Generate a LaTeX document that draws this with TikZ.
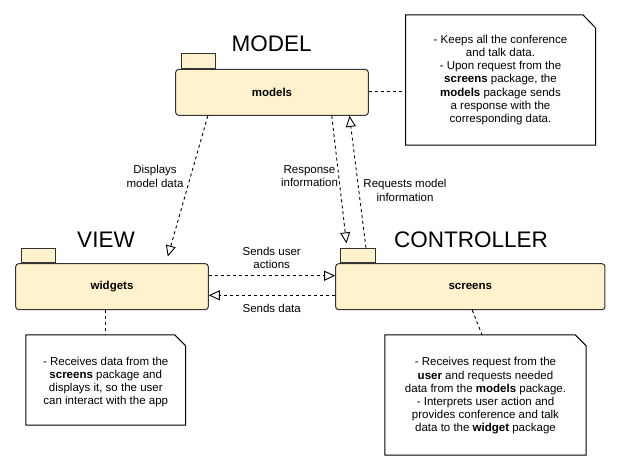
\documentclass[tikz,border=0pt]{standalone}
\usepackage{fontspec}
\setmainfont{Liberation Sans}
\usetikzlibrary{arrows.meta}
\definecolor{pkgfill}{HTML}{FFF2CC}
\definecolor{pkgline}{HTML}{333333}
\tikzset{
  pkgbody/.style={draw=pkgline, fill=pkgfill, line width=1pt, rounded corners=3pt,
    minimum width=193pt, minimum height=46pt, inner sep=0pt,
    font=\fontsize{11.5}{13.2}\selectfont\bfseries},
  pkgtab/.style={draw=pkgline, fill=pkgfill, line width=1pt, minimum width=34.3pt,
    minimum height=14.5pt, inner sep=0pt, anchor=south west},
  title/.style={font=\fontsize{22.5}{26}\selectfont, inner sep=0pt},
  notebox/.style={inner sep=0pt, align=center, font=\fontsize{11.5}{13.2}\selectfont},
  noteline/.style={draw=black, line width=1pt, fill=white},
  lbl/.style={inner sep=0pt, align=center, font=\fontsize{11.5}{13.5}\selectfont},
  dl/.style={draw=black, line width=0.9pt, dash pattern=on 3pt off 3pt},
  arr/.style={dl, -{Triangle[open, length=11pt, width=10pt, line width=0.9pt]}},
}
\begin{document}
\begin{tikzpicture}[x=1pt,y=-1pt]
\useasboundingbox[fill=white] (0,0) rectangle (621,471);

% titles
\node[title] (tmodel) at (271.7,43.8) {MODEL};
\node[title] (tview) at (106,240) {VIEW};
\node[title] (tctrl) at (471,240) {CONTROLLER};

% packages
\node[pkgbody, minimum width=192.6pt] (models) at (272,92.4) {models};
\node[pkgtab] (modelstab) at ([xshift=5.3pt]models.north west) {};
\node[pkgbody, minimum width=192.6pt] (widgets) at (112,286.7) {widgets};
\node[pkgtab] (widgetstab) at ([xshift=5.3pt]widgets.north west) {};
\node[pkgbody, minimum width=269.3pt] (screens) at (470.3,286.7) {screens};
\node[pkgtab] (screenstab) at ([xshift=5.3pt]screens.north west) {};

% notes
\node[notebox, minimum width=189.6pt, minimum height=130pt] (n1) at (500.5,80) {};
\draw[noteline] (n1.north west) -- ([xshift=-12.6pt]n1.north east) -- ([yshift=-13pt]n1.north east)
  -- (n1.south east) -- (n1.south west) -- cycle;
\node[notebox] (n1t) at (n1.center) {- Keeps all the conference\\and talk data.\\- Upon request from the\\\textbf{screens} package, the\\\textbf{models} package sends\\a response with the\\corresponding data.};

\node[notebox, minimum width=159.5pt, minimum height=90pt] (n2) at (105.75,380) {};
\draw[noteline] (n2.north west) -- ([xshift=-11pt]n2.north east) -- ([yshift=-11pt]n2.north east)
  -- (n2.south east) -- (n2.south west) -- cycle;
\node[notebox] (n2t) at ([yshift=-2pt]n2.center) {- Receives data from the\\\textbf{screens} package and\\displays it, so the user\\can interact with the app};

\node[notebox, minimum width=201pt, minimum height=120pt] (n3) at (485.5,395) {};
\draw[noteline] (n3.north west) -- ([xshift=-11pt]n3.north east) -- ([yshift=-11pt]n3.north east)
  -- (n3.south east) -- (n3.south west) -- cycle;
\node[notebox] (n3t) at ([yshift=-1pt]n3.center) {- Receives request from the\\\textbf{user} and requests needed\\data from the \textbf{models} package.\\- Interprets user action and\\provides conference and talk\\data to the \textbf{widget} package};

% note connectors
\draw[dl] (models.east |- 0,91.7) -- (n1.west |- 0,91.7);
\draw[dl] (n2.north |- widgets.south) -- (n2.north);
\draw[dl] ([xshift=2pt]screens.south) -- ([xshift=-3.5pt]n3.north);

% arrows
\draw[arr] ([xshift=32.6pt]models.south west) -- ([xshift=152.6pt,yshift=6.7pt]widgets.north west);
\draw[arr] ([xshift=156.6pt]models.south west) -- ([xshift=6pt,yshift=4.3pt]screenstab.north west);
\draw[arr] ([xshift=25.5pt]screenstab.north west) -- ([xshift=174.3pt]models.south west);
\draw[arr] ([yshift=11pt]widgets.east) -- ([yshift=11pt]screens.west);
\draw[arr] ([yshift=-8.6pt]screens.west) -- ([yshift=-8.6pt]widgets.east);

% labels
\node[lbl] (l1) at (155,176.3) {Displays\\model data};
\node[lbl] (l2) at (309.5,176.3) {Response\\information};
\node[lbl] (l3) at (405,190.5) {Requests model\\information};
\node[lbl] (l4) at (271.7,257.7) {Sends user\\actions};
\node[lbl] (l5) at (271.7,308.7) {Sends data};
\end{tikzpicture}
\end{document}
